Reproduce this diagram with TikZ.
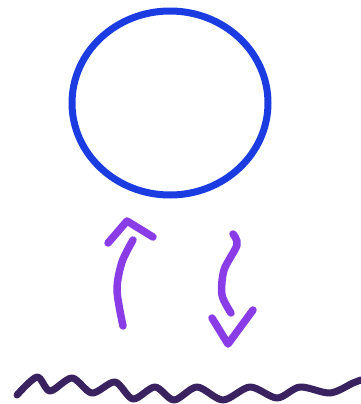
\documentclass[tikz,border=0pt]{standalone}
\usepackage{tikz}
\usetikzlibrary{calc}
\definecolor{ringblue}{HTML}{1A3CE0}
\definecolor{flowpurple}{HTML}{8A3DE6}
\definecolor{wavepurple}{HTML}{3A2160}

\begin{document}
\begin{tikzpicture}[x=1pt,y=-1pt,line cap=round,line join=round]
  \useasboundingbox (0,0) rectangle (361,404);

  % Circle
  \draw[ringblue,line width=7pt] (170,103) ellipse (98 and 92);

  % Up arrow
  \draw[flowpurple,line width=7.5pt] plot[smooth] coordinates {(123,326) (117,290) (122,262) (133,240)};
  \draw[flowpurple,line width=7.5pt] (108,243) -- (127,221) -- (153,237);

  % Down arrow (wavy)
  \draw[flowpurple,line width=7.5pt] plot[smooth] coordinates {(233,234) (237,245) (224,270) (222,295) (231,313)};
  \draw[flowpurple,line width=7.5pt] (212,318) -- (228,344) -- (253,310);

  % Wave at bottom
  \draw[wavepurple,line width=7pt] plot[smooth] coordinates {(17,395) (37,377) (50,391) (72,378) (92,393) (115,382) (133,399) (155,387) (174,400) (197,387) (223,400) (250,387) (277,398) (300,387) (330,393) (353,383) (361,380)};
\end{tikzpicture}
\end{document}
